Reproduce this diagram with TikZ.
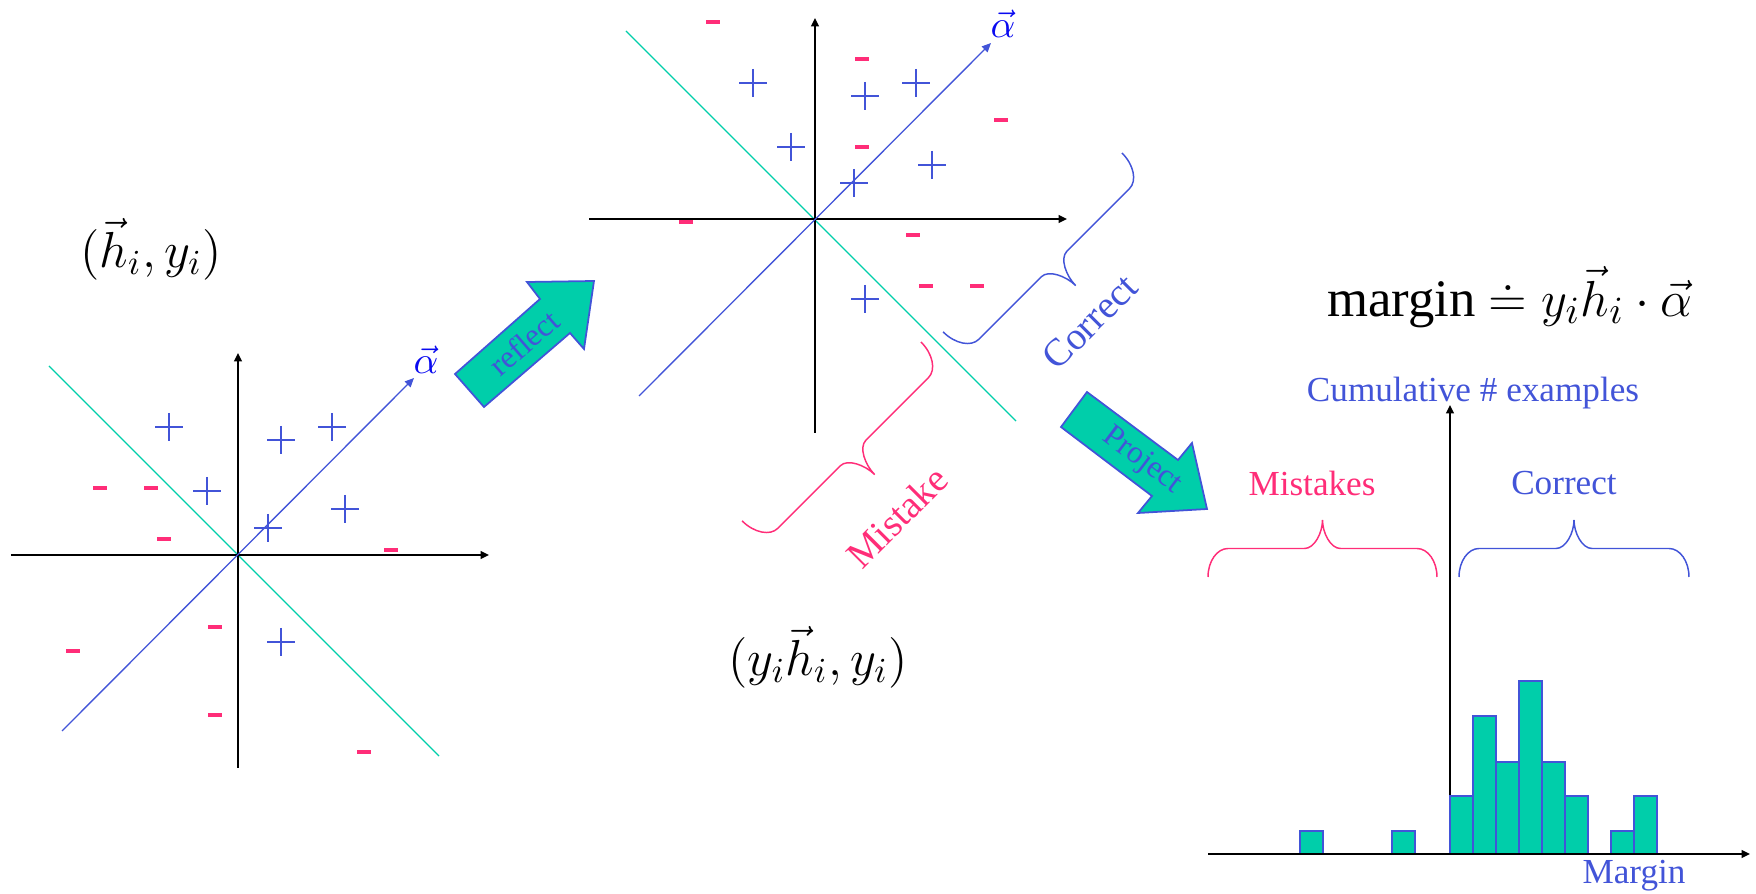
\documentclass[tikz,border=0pt]{standalone}
\usepackage{fontspec}
\setmainfont{Liberation Serif}
\usetikzlibrary{arrows.meta}
\definecolor{pointblue}{RGB}{66,84,216}
\definecolor{pointpink}{RGB}{255,45,120}
\definecolor{septeal}{RGB}{0,206,170}
\definecolor{alphablue}{RGB}{10,10,240}
\tikzset{
  axis line/.style={line width=0.48pt,black,-{Triangle[length=2.4pt,width=2.2pt]}},
  separator line/.style={line width=0.38pt,septeal},
  alpha line/.style={line width=0.38pt,pointblue,-{Triangle[length=2.6pt,width=2.3pt]}},
  plus sign/.style={line width=0.48pt,pointblue},
  minus sign/.style={fill=pointpink,draw=none},
  big arrow/.style={fill=septeal,draw=pointblue,line width=0.5pt,line join=miter},
  arrow text/.style={text=pointblue,font=\fontsize{9}{10}\selectfont},
  brace line/.style={line width=0.42pt},
  hist bar/.style={fill=septeal,draw=pointblue,line width=0.5pt},
  label text/.style={font=\fontsize{10}{12}\selectfont},
  tilted text/.style={font=\fontsize{11}{13}\selectfont,rotate=45},
  formula text/.style={font=\fontsize{14}{16}\selectfont},
  >=Stealth,
}
% #1 style, #2 start, #3 angle, #4 length, #5 depth of the tip
\newcommand{\drawCurlyBrace}[5]{
\begin{scope}[shift={#2},rotate=#3]
\draw[#1] (0,0) .. controls (0,-0.276*#5) and (9,-0.5*#5) .. (20,-0.5*#5)
  -- (#4/2-18,-0.5*#5) .. controls (#4/2-8,-0.5*#5) and (#4/2,-0.776*#5) .. (#4/2,-#5)
  .. controls (#4/2,-0.776*#5) and (#4/2+8,-0.5*#5) .. (#4/2+18,-0.5*#5)
  -- (#4-20,-0.5*#5) .. controls (#4-9,-0.5*#5) and (#4,-0.276*#5) .. (#4,0);
\end{scope}
}

\begin{document}
\begin{tikzpicture}[x=0.01cm,y=-0.01cm]
\useasboundingbox (0,0) rectangle (1756,894);

% original examples (h_i, y_i)
\draw[separator line] (49,366) -- (439,756);
\draw[axis line] (11,555) -- (489,555);
\draw[axis line] (238,768) -- (238,353);
\draw[alpha line] (62,731) -- (414,378);
\node[text=alphablue,font=\fontsize{11}{13}\selectfont] (alphaLeft) at (426,360) {$\vec{\alpha}$};
\foreach \px/\py in {169/427, 281/440, 332/427, 207/491, 345/509, 268/528, 281/642} {
  \draw[plus sign] (\px-14,\py) -- (\px+14,\py) (\px,\py-14) -- (\px,\py+14);
}
\foreach \mx/\my in {100/488, 151/488, 164/539, 391/550, 215/627, 73/651, 215/715, 364/752} {
  \fill[minus sign] (\mx-7,\my-2) rectangle (\mx+7,\my+2);
}
\node[formula text] (pairPlain) at (151,249) {$(\vec{h}_i, y_i)$};

% reflect arrow
\draw[big arrow] (455,374) -- (540,299) -- (527,282) -- (594,281) -- (584,349) -- (570,333) -- (484,407) -- cycle;
\node[arrow text,rotate=41] (reflectTxt) at (524,343) {reflect};

% reflected examples (y_i h_i, y_i)
\draw[separator line] (626,31) -- (1016,421);
\draw[axis line] (589,219) -- (1067,219);
\draw[axis line] (815,433) -- (815,18);
\draw[alpha line] (639,396) -- (991,43);
\node[text=alphablue,font=\fontsize{11}{13}\selectfont] (alphaMid) at (1003,24) {$\vec{\alpha}$};
\foreach \px/\py in {753/83, 865/96, 916/83, 791/147, 932/165, 854/183, 865/299} {
  \draw[plus sign] (\px-14,\py) -- (\px+14,\py) (\px,\py-14) -- (\px,\py+14);
}
\foreach \mx/\my in {713/22, 862/59, 1001/120, 862/147, 686/222, 913/235, 926/286, 977/286} {
  \fill[minus sign] (\mx-7,\my-2) rectangle (\mx+7,\my+2);
}
\drawCurlyBrace{brace line,pointblue}{(1122,153)}{225}{253}{61}
\drawCurlyBrace{brace line,pointpink}{(921,342)}{225}{253}{61}
\node[tilted text,text=pointblue] (correctRot) at (1090,322) {Correct};
\node[tilted text,text=pointpink] (mistakeRot) at (897,517) {Mistake};
\node[formula text] (pairSigned) at (818,657) {$(y_i\vec{h}_i, y_i)$};

% project arrow
\draw[big arrow] (1087,392) -- (1178,460) -- (1192,443) -- (1207,509) -- (1138,513) -- (1152,496) -- (1061,427) -- cycle;
\node[arrow text,rotate=-37] (projectTxt) at (1142,461) {Project};

% margin histogram
\node[font=\fontsize{15}{18}\selectfont] (marginEq) at (1510,297) {margin\ $\doteq y_i\vec{h}_i\cdot\vec{\alpha}$};
\node[label text,text=pointblue] (cumLabel) at (1473,393) {Cumulative \# examples};
\node[label text,text=pointpink] (mistakesLabel) at (1312,483) {Mistakes};
\node[label text,text=pointblue] (correctLabel) at (1564,483) {Correct};
\drawCurlyBrace{brace line,pointpink}{(1208,577)}{0}{229}{57}
\drawCurlyBrace{brace line,pointblue}{(1459,577)}{0}{230}{57}
\draw[axis line] (1450,854) -- (1450,405);
\foreach \bx/\bh in {1300/23, 1392/23, 1450/58, 1473/138, 1496/92, 1519/173, 1542/92, 1565/58, 1611/23, 1634/58} {
  \draw[hist bar] (\bx,854) rectangle (\bx+23,854-\bh);
}
\draw[axis line] (1208,854) -- (1750,854);
\node[label text,text=pointblue] (marginLabel) at (1634,876) {Margin};
\end{tikzpicture}
\end{document}
